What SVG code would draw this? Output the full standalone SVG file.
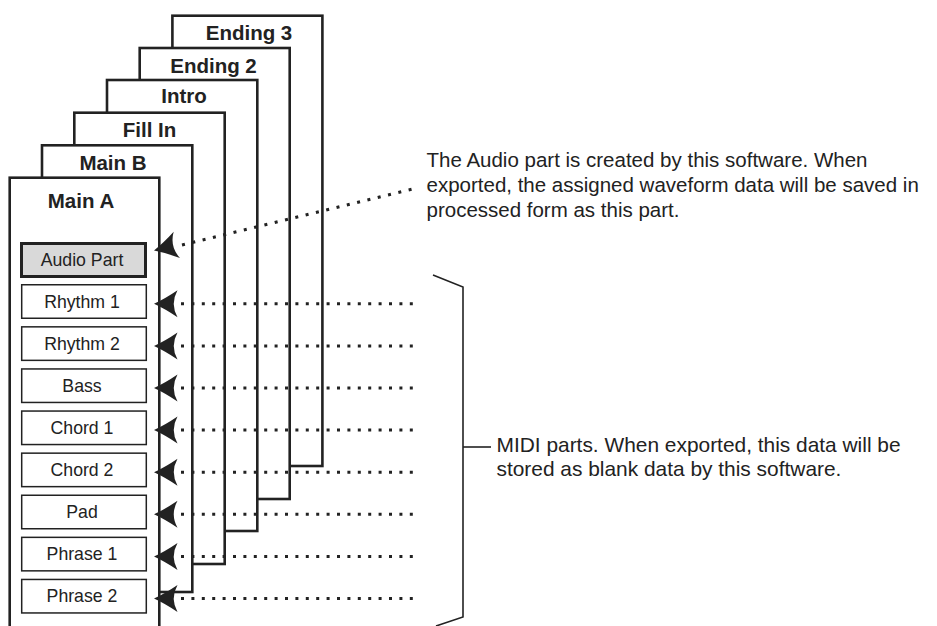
<svg xmlns="http://www.w3.org/2000/svg" xmlns:xlink="http://www.w3.org/1999/xlink" width="937" height="626" viewBox="0 0 937 626">
<style>
  .frame{fill:#fff;stroke:#222;stroke-width:2.6}
  .ftitle{font-family:"Liberation Sans",Arial,sans-serif;font-weight:bold;font-size:20.5px;fill:#222;text-anchor:middle}
  .part{fill:#fff;stroke:#222;stroke-width:1.5}
  .audio{fill:#d9d9d9;stroke:#222;stroke-width:3}
  .plabel{font-family:"Liberation Sans",Arial,sans-serif;font-size:17.7px;fill:#222;text-anchor:middle}
  .note{font-family:"Liberation Sans",Arial,sans-serif;font-size:20.5px;fill:#222}
  .note2{font-family:"Liberation Sans",Arial,sans-serif;font-size:20.9px;fill:#222}
  .dots{fill:none;stroke:#222;stroke-width:3;stroke-dasharray:3 7.4}
  .ddots{fill:none;stroke:#222;stroke-width:3;stroke-dasharray:3 7.6}
  .brk{fill:none;stroke:#222;stroke-width:1.6}
  .ah{fill:#222}
</style>
<defs>
  <path id="ah" class="ah" d="M0,0 Q11,-5 23.5,-13.5 Q16,0 23.5,13.5 Q11,5 0,0 Z"/>
</defs>
<rect width="937" height="626" fill="#fff"/>

<g id="ending3">
  <rect class="frame" x="172.4" y="15.7" width="150" height="450.3"/>
  <text class="ftitle" x="249" y="40">Ending 3</text>
</g>
<g id="ending2">
  <rect class="frame" x="139.7" y="48" width="150" height="451"/>
  <text class="ftitle" x="213.5" y="72.7">Ending 2</text>
</g>
<g id="intro">
  <rect class="frame" x="107" y="80" width="150.3" height="451"/>
  <text class="ftitle" x="184" y="103.3">Intro</text>
</g>
<g id="fill-in">
  <rect class="frame" x="74.3" y="112.7" width="150.4" height="451.3"/>
  <text class="ftitle" x="149.5" y="137.3">Fill In</text>
</g>
<g id="main-b">
  <rect class="frame" x="42" y="145.3" width="150.3" height="446.7"/>
  <text class="ftitle" x="113" y="170">Main B</text>
</g>
<g id="main-a">
  <rect class="frame" x="9.7" y="177.7" width="149.6" height="470"/>
  <text class="ftitle" x="81" y="208.3">Main A</text>
</g>

<g id="audio-part">
  <rect class="audio" x="21.5" y="243.5" width="124" height="33"/>
  <text class="plabel" x="82" y="265.5">Audio Part</text>
</g>
<g id="rhythm-1">
  <rect class="part" x="21.7" y="284.75" width="124.6" height="33.5"/>
  <text class="plabel" x="82" y="307.7">Rhythm 1</text>
</g>
<g id="rhythm-2">
  <rect class="part" x="21.7" y="326.85" width="124.6" height="33.5"/>
  <text class="plabel" x="82" y="349.8">Rhythm 2</text>
</g>
<g id="bass">
  <rect class="part" x="21.7" y="368.95" width="124.6" height="33.5"/>
  <text class="plabel" x="82" y="391.9">Bass</text>
</g>
<g id="chord-1">
  <rect class="part" x="21.7" y="411.05" width="124.6" height="33.5"/>
  <text class="plabel" x="82" y="434">Chord 1</text>
</g>
<g id="chord-2">
  <rect class="part" x="21.7" y="453.15" width="124.6" height="33.5"/>
  <text class="plabel" x="82" y="476.1">Chord 2</text>
</g>
<g id="pad">
  <rect class="part" x="21.7" y="495.25" width="124.6" height="33.5"/>
  <text class="plabel" x="82" y="518.2">Pad</text>
</g>
<g id="phrase-1">
  <rect class="part" x="21.7" y="537.35" width="124.6" height="33.5"/>
  <text class="plabel" x="82" y="560.3">Phrase 1</text>
</g>
<g id="phrase-2">
  <rect class="part" x="21.7" y="579.45" width="124.6" height="33.5"/>
  <text class="plabel" x="82" y="602.4">Phrase 2</text>
</g>

<g id="audio-note">
  <text class="note" x="426.5" y="166.5">The Audio part is created by this software. When</text>
  <text class="note" x="426.5" y="191.5">exported, the assigned waveform data will be saved in</text>
  <text class="note" x="426.5" y="216.5">processed form as this part.</text>
</g>
<g id="midi-note">
  <polyline class="brk" points="433,275 463,287 463,617 436,626"/>
  <line class="brk" x1="463" y1="447" x2="491" y2="447"/>
  <text class="note2" x="496.5" y="452">MIDI parts. When exported, this data will be</text>
  <text class="note2" x="496.5" y="476">stored as blank data by this software.</text>
</g>

<g id="connectors">
  <line class="ddots" x1="182" y1="245" x2="417" y2="188"/>
  <use xlink:href="#ah" transform="translate(154,250.5) rotate(-13.6)"/>
  <line class="dots" x1="181" y1="303.8" x2="415" y2="303.8"/>
  <use xlink:href="#ah" transform="translate(154,303.8)"/>
  <line class="dots" x1="181" y1="345.9" x2="415" y2="345.9"/>
  <use xlink:href="#ah" transform="translate(154,345.9)"/>
  <line class="dots" x1="181" y1="388" x2="415" y2="388"/>
  <use xlink:href="#ah" transform="translate(154,388)"/>
  <line class="dots" x1="181" y1="430.1" x2="415" y2="430.1"/>
  <use xlink:href="#ah" transform="translate(154,430.1)"/>
  <line class="dots" x1="181" y1="472.2" x2="415" y2="472.2"/>
  <use xlink:href="#ah" transform="translate(154,472.2)"/>
  <line class="dots" x1="181" y1="514.3" x2="415" y2="514.3"/>
  <use xlink:href="#ah" transform="translate(154,514.3)"/>
  <line class="dots" x1="181" y1="556.4" x2="415" y2="556.4"/>
  <use xlink:href="#ah" transform="translate(154,556.4)"/>
  <line class="dots" x1="181" y1="598.5" x2="415" y2="598.5"/>
  <use xlink:href="#ah" transform="translate(154,598.5)"/>
</g>
</svg>
